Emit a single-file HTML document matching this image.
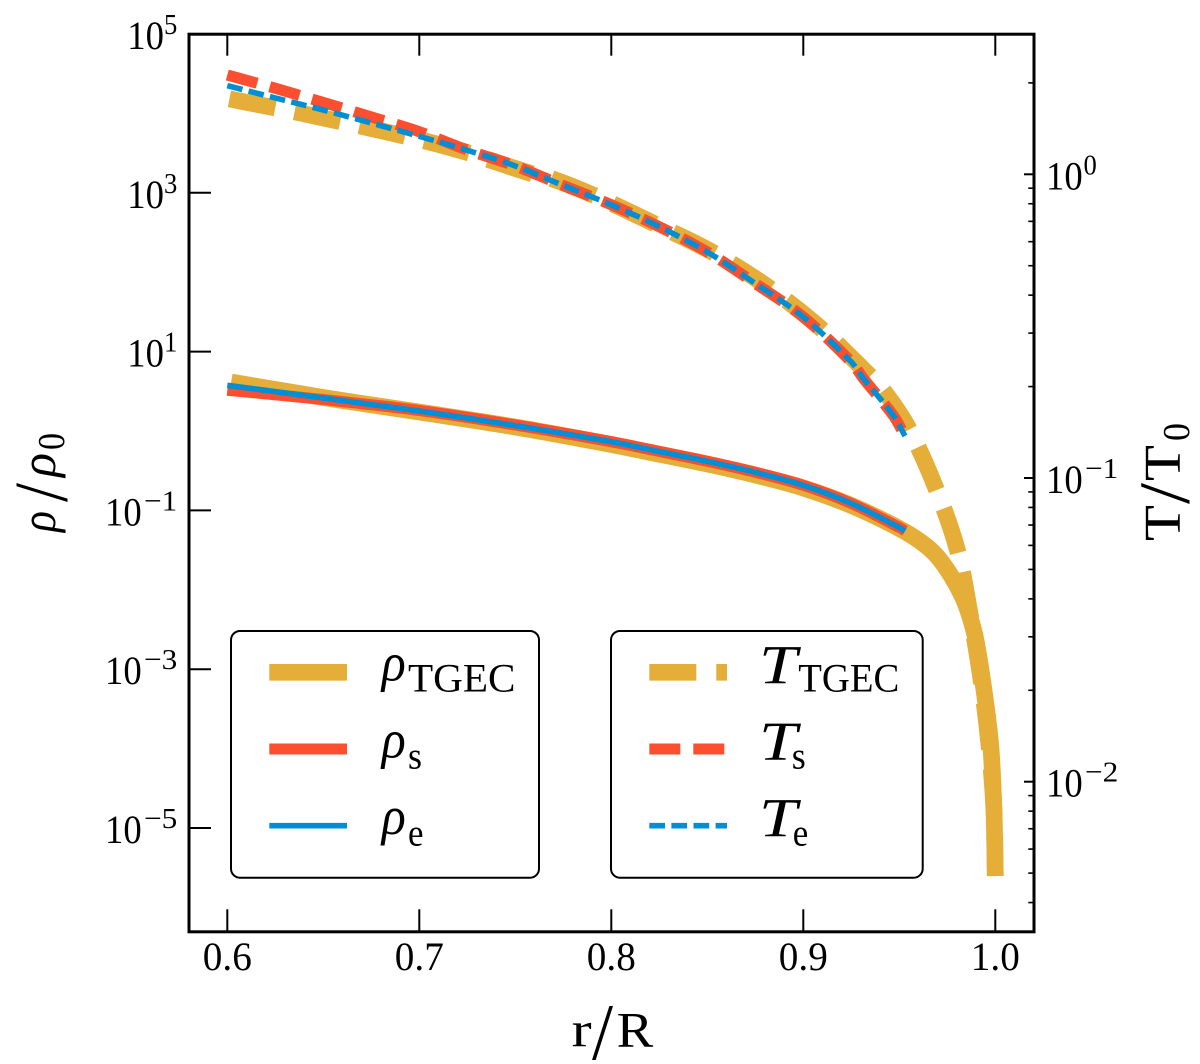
<!DOCTYPE html>
<html lang="en">
<head>
<meta charset="utf-8">
<title>Density and temperature profiles</title>
<style>
html,body{margin:0;padding:0;background:#fff;}
svg{display:block;}
text{font-family:"Liberation Serif","DejaVu Serif",serif;fill:#000;}
.it{font-style:italic;}
</style>
</head>
<body>
<svg id="chart" xmlns="http://www.w3.org/2000/svg" width="1200" height="1064" viewBox="0 0 1200 1064">
  <rect x="0" y="0" width="1200" height="1064" fill="#fff"/>
  <g id="series"></g>
  <g id="ticks"></g>
  <rect x="189" y="34.2" width="845" height="897.6" fill="none" stroke="#000" stroke-width="3"/>

  <g>
    <text x="571.7" y="1046.7" font-size="50" textLength="20" lengthAdjust="spacingAndGlyphs">r</text>
    <text x="592" y="1059" font-size="80" textLength="21" lengthAdjust="spacingAndGlyphs">/</text>
    <text x="616.7" y="1046.7" font-size="50" textLength="36.6" lengthAdjust="spacingAndGlyphs">R</text>
  </g>

  <g transform="translate(55,532) rotate(-90)">
    <text class="it" x="0" y="0" font-size="50" textLength="21" lengthAdjust="spacingAndGlyphs">ρ</text>
    <text x="30" y="12" font-size="76" textLength="19" lengthAdjust="spacingAndGlyphs">/</text>
    <text class="it" x="55" y="0" font-size="50" textLength="24" lengthAdjust="spacingAndGlyphs">ρ</text>
    <text x="82" y="9" font-size="38" textLength="17" lengthAdjust="spacingAndGlyphs">0</text>
  </g>

  <g transform="translate(1180,541) rotate(-90)">
    <text x="0" y="0" font-size="52" textLength="36" lengthAdjust="spacingAndGlyphs">T</text>
    <text x="37" y="9" font-size="72" textLength="21" lengthAdjust="spacingAndGlyphs">/</text>
    <text x="60" y="0" font-size="52" textLength="36" lengthAdjust="spacingAndGlyphs">T</text>
    <text x="100" y="9" font-size="38" textLength="18" lengthAdjust="spacingAndGlyphs">0</text>
  </g>

  <g>
    <rect x="231" y="631" width="308" height="246.7" rx="9" ry="9" fill="#fff" stroke="#000" stroke-width="2"/>
    <line x1="269.3" x2="347" y1="672.3" y2="672.3" stroke="#E5AE38" stroke-width="16.7"/>
    <line x1="269.3" x2="347" y1="749" y2="749" stroke="#FC4F30" stroke-width="11.1"/>
    <line x1="269.3" x2="347" y1="825.7" y2="825.7" stroke="#008FD5" stroke-width="5.6"/>
    <g>
      <text class="it" x="381.7" y="680.7" font-size="54" textLength="24" lengthAdjust="spacingAndGlyphs">ρ</text>
      <text x="408" y="691.7" font-size="40.7" textLength="107.5" lengthAdjust="spacingAndGlyphs">TGEC</text>
    </g>
    <g>
      <text class="it" x="381.7" y="757.3" font-size="54" textLength="24" lengthAdjust="spacingAndGlyphs">ρ</text>
      <text x="408" y="768.3" font-size="38" textLength="14" lengthAdjust="spacingAndGlyphs">s</text>
    </g>
    <g>
      <text class="it" x="381.7" y="834" font-size="54" textLength="24" lengthAdjust="spacingAndGlyphs">ρ</text>
      <text x="408" y="845.7" font-size="38" textLength="15.5" lengthAdjust="spacingAndGlyphs">e</text>
    </g>
  </g>

  <g>
    <rect x="611" y="631" width="311.7" height="246.7" rx="9" ry="9" fill="#fff" stroke="#000" stroke-width="2"/>
    <line x1="649.3" x2="727" y1="672.3" y2="672.3" stroke="#E5AE38" stroke-width="16.7" stroke-dasharray="47 20"/>
    <line x1="649.3" x2="727" y1="749" y2="749" stroke="#FC4F30" stroke-width="11.1" stroke-dasharray="31 13"/>
    <line x1="649.3" x2="727" y1="825.7" y2="825.7" stroke="#008FD5" stroke-width="5.6" stroke-dasharray="15.7 6.4"/>
    <g>
      <text class="it" x="759" y="683.3" font-size="55" textLength="38" lengthAdjust="spacingAndGlyphs">T</text>
      <text x="798.3" y="691.7" font-size="40.7" textLength="101" lengthAdjust="spacingAndGlyphs">TGEC</text>
    </g>
    <g>
      <text class="it" x="759" y="760" font-size="55" textLength="38" lengthAdjust="spacingAndGlyphs">T</text>
      <text x="791.7" y="768.3" font-size="38" textLength="14" lengthAdjust="spacingAndGlyphs">s</text>
    </g>
    <g>
      <text class="it" x="759" y="836.7" font-size="55" textLength="38" lengthAdjust="spacingAndGlyphs">T</text>
      <text x="792.7" y="845.7" font-size="38" textLength="15.5" lengthAdjust="spacingAndGlyphs">e</text>
    </g>
  </g>
</svg>
<script>
// ---- tick values ----
const xTicks = [0.6, 0.7, 0.8, 0.9, 1.0];
const xTickLabels = ["0.6", "0.7", "0.8", "0.9", "1.0"];
const rhoTicks = [1e5, 1e3, 1e1, 1e-1, 1e-3, 1e-5];
const rhoTickExponents = ["5", "3", "1", "−1", "−3", "−5"];
const tempTicks = [1, 0.1, 0.01];
const tempTickExponents = ["0", "−1", "−2"];
const tempMinorTicks = [2, 0.9, 0.8, 0.7, 0.6, 0.5, 0.4, 0.3, 0.2, 0.09, 0.08, 0.07, 0.06, 0.05, 0.04, 0.03, 0.02, 0.009, 0.008, 0.007, 0.006, 0.005, 0.004];

// ---- density series ----
const rRhoTgec = [0.602, 0.65, 0.7, 0.75, 0.8, 0.825, 0.85, 0.875, 0.9, 0.925, 0.95, 0.9613, 0.9691, 0.9764, 0.9827, 0.9868, 0.9899, 0.9941, 0.9976, 0.9993, 1.0];
const rhoTgec = [4.141, 2.642, 1.735, 1.123, 0.676, 0.5102, 0.384, 0.2791, 0.1915, 0.1153, 0.0592, 0.03999, 0.02743, 0.01581, 0.00835, 0.004545, 0.002332, 0.000547, 0.000111, 0.00001685, 0.000002486];
const rRhoModel = [0.6, 0.65, 0.7, 0.75, 0.8, 0.825, 0.85, 0.875, 0.9, 0.925, 0.95, 0.953];
const rhoS = [3.265, 2.493, 1.812, 1.19, 0.733, 0.553, 0.416, 0.3025, 0.2075, 0.1225, 0.061, 0.0552];
const rhoE = [3.763, 2.604, 1.786, 1.17, 0.731, 0.5518, 0.4151, 0.3018, 0.207, 0.1222, 0.0609, 0.055];

// ---- temperature series ----
const rTempTgec = [0.6011, 0.6353, 0.6691, 0.703, 0.7259, 0.7358, 0.7592, 0.7681, 0.7905, 0.8217, 0.8525, 0.8816, 0.9077, 0.9311, 0.9415, 0.9545, 0.9686, 0.9801, 0.9868, 0.9926, 0.9967, 0.9993, 1.0];
const tempTgec = [1.77, 1.604, 1.442, 1.287, 1.175, 1.119, 1.002, 0.9723, 0.8547, 0.6913, 0.5548, 0.4256, 0.3166, 0.2285, 0.1949, 0.1472, 0.09412, 0.05839, 0.03593, 0.02162, 0.0132, 0.00807, 0.00489];
const rTempModel = [0.6, 0.625, 0.65, 0.675, 0.7, 0.725, 0.75, 0.775, 0.8, 0.825, 0.85, 0.875, 0.9, 0.925, 0.9311, 0.9467, 0.953];
const tempS = [2.123, 1.92, 1.725, 1.545, 1.381, 1.202, 1.065, 0.918, 0.794, 0.672, 0.555, 0.437, 0.339, 0.241, 0.2135, 0.1612, 0.1375];
const tempE = [1.959, 1.784, 1.628, 1.475, 1.334, 1.2, 1.065, 0.9186, 0.7935, 0.6724, 0.5548, 0.437, 0.339, 0.241, 0.2135, 0.1612, 0.1375];

// ---- axis functions ----
function xScale(r) { return 227.3 + (r - 0.6) * 1920; }
function rhoScale(v) { return 34 + (5 - Math.log10(v)) * 79.4; }
function tempScale(v) { return 174.3 - Math.log10(v) * 303.7; }

const NS = "http://www.w3.org/2000/svg";
const seriesLayer = document.getElementById("series");
const tickLayer = document.getElementById("ticks");

function smoothPath(pts) {
  const n = pts.length;
  const tangents = pts.map(function (p, i) {
    const a = pts[Math.max(i - 1, 0)];
    const b = pts[Math.min(i + 1, n - 1)];
    const dx = b[0] - a[0], dy = b[1] - a[1];
    const len = Math.hypot(dx, dy) || 1;
    return [dx / len, dy / len];
  });
  let d = "M" + pts[0][0].toFixed(2) + " " + pts[0][1].toFixed(2);
  for (let i = 0; i < n - 1; i++) {
    const p = pts[i], q = pts[i + 1];
    const h = Math.hypot(q[0] - p[0], q[1] - p[1]) / 3;
    d += "C" + (p[0] + tangents[i][0] * h).toFixed(2) + " " + (p[1] + tangents[i][1] * h).toFixed(2) +
      " " + (q[0] - tangents[i + 1][0] * h).toFixed(2) + " " + (q[1] - tangents[i + 1][1] * h).toFixed(2) +
      " " + q[0].toFixed(2) + " " + q[1].toFixed(2);
  }
  return d;
}

function curve(name, rs, vs, yFn, color, width, dash) {
  const pts = rs.map(function (r, i) { return [xScale(r), yFn(vs[i])]; });
  const el = document.createElementNS(NS, "path");
  el.setAttribute("d", smoothPath(pts));
  el.setAttribute("fill", "none");
  el.setAttribute("stroke", color);
  el.setAttribute("stroke-width", width);
  el.setAttribute("stroke-linejoin", "round");
  if (dash) el.setAttribute("stroke-dasharray", dash);
  
  
  seriesLayer.appendChild(el);
}

const GOLD = "#E5AE38", RED = "#FC4F30", BLUE = "#008FD5";
curve("rho-tgec-line", rRhoTgec, rhoTgec, rhoScale, GOLD, 16.7, null);
curve("temperature-tgec-line", rTempTgec, tempTgec, tempScale, GOLD, 16.7, "46.7 19.7");
curve("rho-s-line", rRhoModel, rhoS, rhoScale, RED, 11.1, null);
curve("temperature-s-line", rTempModel, tempS, tempScale, RED, 11.1, "31 13");
curve("rho-e-line", rRhoModel, rhoE, rhoScale, BLUE, 5.6, null);
curve("temperature-e-line", rTempModel, tempE, tempScale, BLUE, 5.6, "15.6 6.4");

function tickLine(name, x1, y1, x2, y2, w) {
  const el = document.createElementNS(NS, "line");
  el.setAttribute("x1", x1);
  el.setAttribute("y1", y1);
  el.setAttribute("x2", x2);
  el.setAttribute("y2", y2);
  el.setAttribute("stroke", "#000");
  el.setAttribute("stroke-width", w);
  
  
  tickLayer.appendChild(el);
}

function label(name, str, x, y, size, len, anchor) {
  const el = document.createElementNS(NS, "text");
  el.textContent = str;
  el.setAttribute("x", x);
  el.setAttribute("y", y);
  el.setAttribute("font-size", size);
  el.setAttribute("textLength", len);
  el.setAttribute("lengthAdjust", "spacingAndGlyphs");
  if (anchor) el.setAttribute("text-anchor", anchor);
  
  
  tickLayer.appendChild(el);
}

xTicks.forEach(function (t, i) {
  const x = xScale(t);
  tickLine("x-tick-bottom", x, 931.8, x, 909.3, 2);
  tickLine("x-tick-top", x, 34.2, x, 55.7, 2);
  label("x-tick-label", xTickLabels[i], x - 24.5, 970, 40, 49);
});

rhoTicks.forEach(function (t, i) {
  const y = rhoScale(t);
  const exp = rhoTickExponents[i];
  const expW = exp.length > 1 ? 33.3 : 13.3;
  tickLine("rho-tick", 189, y, 211, y, 2);
  label("rho-tick-label-base", "10", 177.3 - expW - (exp.length > 1 ? 2.3 : 0) - 36.7, y + 15, 40, 36.7);
  label("rho-tick-label-exponent", exp, 177.3 - expW, y, 29, expW);
});

tempTicks.forEach(function (t, i) {
  const y = tempScale(t);
  const exp = tempTickExponents[i];
  const expW = exp.length > 1 ? 33.3 : 13.3;
  tickLine("temperature-tick", 1034, y, 1024, y, 2);
  label("temperature-tick-label-base", "10", 1046, y + 15, 40, 36.7);
  label("temperature-tick-label-exponent", exp, exp.length > 1 ? 1085 : 1083.5, y, 29, expW);
});

tempMinorTicks.forEach(function (t) {
  const y = tempScale(t);
  tickLine("temperature-minor-tick", 1034, y, 1028.3, y, 1.6);
});
</script>
</body>
</html>
